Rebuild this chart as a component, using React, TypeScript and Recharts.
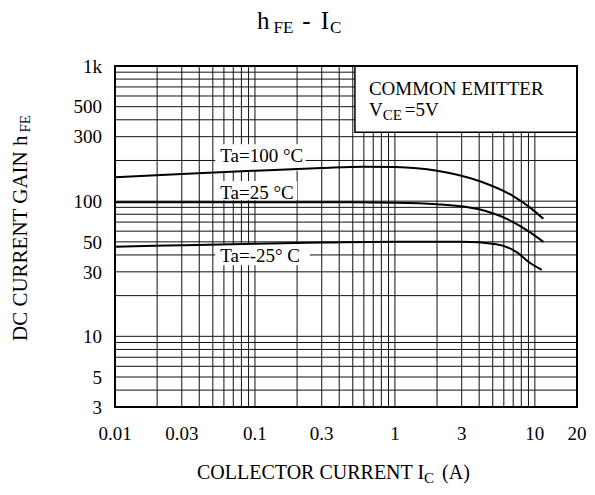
import React from "react";
import { CartesianGrid, Line, LineChart, ReferenceArea, XAxis, YAxis } from "recharts";

const FONT = "'Liberation Serif', 'Times New Roman', serif";

// axis labels
const xTicks = [0.01, 0.03, 0.1, 0.3, 1, 3, 10, 20];
const yTicks = [3, 5, 10, 30, 50, 100, 300, 500, 1000];

// log grid
const gridX = [
  0.01, 0.02, 0.03, 0.04, 0.05, 0.06, 0.07, 0.08, 0.09,
  0.1, 0.2, 0.3, 0.4, 0.5, 0.6, 0.7, 0.8, 0.9,
  1, 2, 3, 4, 5, 6, 7, 8, 9,
  10, 20,
];
const gridY = [
  3, 4, 5, 6, 7, 8, 9,
  10, 20, 30, 40, 50, 60, 70, 80, 90,
  100, 200, 300, 400, 500, 600, 700, 800, 900,
  1000,
];

// hFE vs Ic
const ta100 = [
  { x: 0.01, y: 150 }, { x: 0.03, y: 159 }, { x: 0.1, y: 168 }, { x: 0.3, y: 176 },
  { x: 0.6, y: 180 }, { x: 1, y: 179 }, { x: 2, y: 168 }, { x: 4, y: 141 },
  { x: 7, y: 109 }, { x: 9.2, y: 90 }, { x: 11.5, y: 74 },
];
const ta25 = [
  { x: 0.01, y: 98 }, { x: 0.1, y: 98 }, { x: 0.5, y: 98 }, { x: 1, y: 97.5 },
  { x: 2, y: 95 }, { x: 4, y: 87 }, { x: 7, y: 70 }, { x: 9.2, y: 59 }, { x: 11.5, y: 50 },
];
const taMinus25 = [
  { x: 0.01, y: 46 }, { x: 0.03, y: 47.2 }, { x: 0.1, y: 48.5 }, { x: 0.3, y: 49.4 },
  { x: 1, y: 50 }, { x: 3, y: 50 }, { x: 5.3, y: 48 }, { x: 7.4, y: 42 },
  { x: 9.2, y: 35 }, { x: 11.2, y: 31 },
];

const txt = { fontFamily: FONT, fontSize: 19, fill: "#000" };

function boxLabel(text: string) {
  return (props: any) => {
    const { x, y } = props.viewBox;
    return (
      <text x={x + 5} y={y + 18} style={txt}>
        {text}
      </text>
    );
  };
}

function commonEmitterLabel(props: any) {
  const { x, y } = props.viewBox;
  return (
    <g>
      <text x={x + 14} y={y + 29} style={txt}>COMMON EMITTER</text>
      <text x={x + 14} y={y + 50} style={txt}>
        V<tspan fontSize={15} dy={4}>CE</tspan>
        <tspan dy={-4} dx={3}>=5V</tspan>
      </text>
    </g>
  );
}

export default function App() {
  return (
    <div style={{ position: "absolute", left: 0, top: 0, width: 595, height: 495, background: "#fff" }}>
      <LineChart width={595} height={495} margin={{ top: 66, right: 18, bottom: 0, left: 0 }}>
        <CartesianGrid
          horizontalValues={gridY}
          verticalValues={gridX}
          stroke="#111"
          strokeWidth={1}
        />
        <XAxis
          dataKey="x"
          type="number"
          scale="log"
          domain={[0.01, 20]}
          ticks={xTicks}
          interval={0}
          allowDataOverflow
          axisLine={false}
          tickLine={false}
          tickSize={0}
          tickMargin={20}
          height={88}
          tick={txt}
        />
        <YAxis
          type="number"
          scale="log"
          domain={[3, 1000]}
          ticks={yTicks}
          interval={0}
          allowDataOverflow
          axisLine={false}
          tickLine={false}
          tickSize={0}
          tickMargin={13}
          width={115}
          tick={txt}
          tickFormatter={(v: number) => (v === 1000 ? "1k" : String(v))}
        />
        <ReferenceArea x1={0.518} x2={20} y1={324} y2={1000} fill="#fff" fillOpacity={1} stroke="#000" strokeWidth={1.5} label={commonEmitterLabel} />
        <ReferenceArea x1={0.052} x2={0.23} y1={168} y2={264} fill="#fff" fillOpacity={1} stroke="none" label={boxLabel("Ta=100 °C")} />
        <ReferenceArea x1={0.052} x2={0.2} y1={101.5} y2={141} fill="#fff" fillOpacity={1} stroke="none" label={boxLabel("Ta=25 °C")} />
        <ReferenceArea x1={0.052} x2={0.247} y1={33.6} y2={48} fill="#fff" fillOpacity={1} stroke="none" label={boxLabel("Ta=-25° C")} />
        <ReferenceArea x1={0.01} x2={20} y1={3} y2={1000} fill="none" stroke="#000" strokeWidth={2} />
        <Line data={ta100} dataKey="y" type="monotone" stroke="#000" strokeWidth={2} dot={false} isAnimationActive={false} />
        <Line data={ta25} dataKey="y" type="monotone" stroke="#000" strokeWidth={2} dot={false} isAnimationActive={false} />
        <Line data={taMinus25} dataKey="y" type="monotone" stroke="#000" strokeWidth={2} dot={false} isAnimationActive={false} />
      </LineChart>
      <svg width={595} height={495} style={{ position: "absolute", left: 0, top: 0, pointerEvents: "none" }}>
        <text x={257} y={29} fontFamily={FONT} fontSize={25} fill="#000">
          h<tspan fontSize={17} dx={4} dy={4}>FE</tspan>
          <tspan fontSize={25} dx={9} dy={-4}>-</tspan>
          <tspan dx={10}>I</tspan>
          <tspan fontSize={17} dx={1} dy={4}>C</tspan>
        </text>
        <text transform="rotate(-90)" x={-228} y={27} textAnchor="middle" fontFamily={FONT} fontSize={21} fill="#000">
          DC CURRENT GAIN h<tspan fontSize={15} dx={3} dy={3}>FE</tspan>
        </text>
        <text x={197} y={479} fontFamily={FONT} fontSize={20} fill="#000">
          COLLECTOR CURRENT I<tspan fontSize={15} dy={4}>C</tspan>
          <tspan fontSize={20} dx={8} dy={-4}>(A)</tspan>
        </text>
      </svg>
    </div>
  );
}
